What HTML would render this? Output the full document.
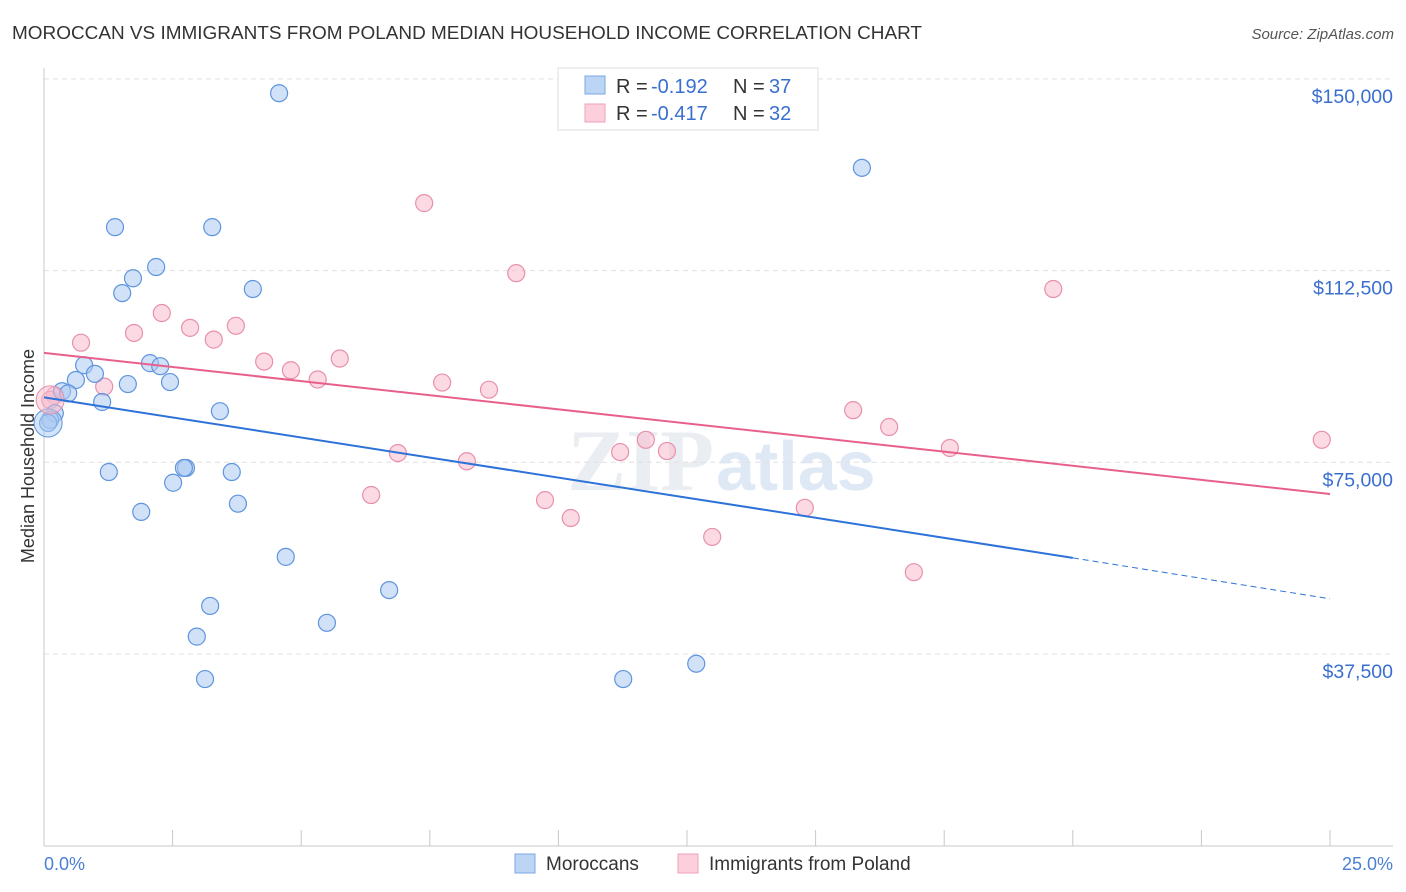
<!DOCTYPE html>
<html><head><meta charset="utf-8"><style>
body{margin:0;background:#fff;font-family:"Liberation Sans",sans-serif}
svg{display:block}
</style></head><body>
<svg id="c" width="1406" height="892" xmlns="http://www.w3.org/2000/svg">
<text x="12" y="39" font-size="18" fill="#333" textLength="910" lengthAdjust="spacingAndGlyphs">MOROCCAN VS IMMIGRANTS FROM POLAND MEDIAN HOUSEHOLD INCOME CORRELATION CHART</text>
<text x="1394" y="39" font-size="15" fill="#555" font-style="italic" text-anchor="end">Source: ZipAtlas.com</text>
<text x="714" y="490" font-size="88" fill="#eaedf1" text-anchor="end" font-family="Liberation Serif" font-weight="bold">ZIP</text>
<text x="716" y="490" font-size="70" fill="#dfe9f6" font-weight="bold">atlas</text>
<g id="grid"></g>
<g id="axes"></g>
<g id="marks"></g>
<text transform="translate(34,456) rotate(-90)" font-size="18" fill="#333" text-anchor="middle">Median Household Income</text>
<text x="44" y="870" font-size="18" fill="#4a7fd4">0.0%</text>
<text x="1393" y="870" font-size="18" fill="#4a7fd4" text-anchor="end">25.0%</text>
<g>
<rect x="558" y="68" width="260" height="62" fill="#fff" stroke="#ddd"/>
<rect x="585" y="76" width="20" height="18" fill="#bcd5f5" stroke="#7aa8e6"/>
<text x="616" y="93" font-size="20" fill="#333">R =</text>
<text x="651" y="93" font-size="20" fill="#3a6fd0">-0.192</text>
<text x="733" y="93" font-size="20" fill="#333">N =</text>
<text x="769" y="93" font-size="20" fill="#3a6fd0">37</text>
<rect x="585" y="104" width="20" height="18" fill="#fbd0dc" stroke="#f0a0b8"/>
<text x="616" y="120" font-size="20" fill="#333">R =</text>
<text x="651" y="120" font-size="20" fill="#3a6fd0">-0.417</text>
<text x="733" y="120" font-size="20" fill="#333">N =</text>
<text x="769" y="120" font-size="20" fill="#3a6fd0">32</text>
</g>
<g>
<rect x="515" y="854" width="20" height="19" fill="#bcd5f5" stroke="#7aa8e6"/>
<text x="546" y="870" font-size="19" fill="#333">Moroccans</text>
<rect x="678" y="854" width="20" height="19" fill="#fbd0dc" stroke="#f0a0b8"/>
<text x="709" y="870" font-size="19" fill="#333">Immigrants from Poland</text>
</g>
</svg>
<script>
const yTicks=[37500,75000,112500,150000];
const yTickLabels=["$37,500","$75,000","$112,500","$150,000"];
const xTicks=[0,2.5,5,7.5,10,12.5,15,17.5,20,22.5,25];
const blueX=[4.57,15.90,1.38,3.27,2.18,1.73,1.52,4.06,0.78,0.99,2.06,2.26,0.62,1.63,2.45,0.35,0.47,1.13,3.42,0.21,0.12,0.08,1.26,2.76,2.72,3.65,2.51,3.77,1.89,4.70,6.71,3.23,5.50,2.97,12.68,3.13,11.26];
const blueY=[147200,132600,121000,121000,113200,111000,108100,108900,94000,92300,94400,93800,91100,90300,90700,88900,88500,86800,85000,84600,83300,82700,73100,73900,73900,73100,71000,66900,65300,56500,50000,46900,43600,40900,35600,32600,32600];
const pinkX=[7.39,9.18,19.62,2.29,1.75,2.84,3.73,3.30,0.72,5.75,4.28,4.80,5.32,7.74,8.65,1.17,0.21,0.12,15.73,16.43,17.61,24.84,11.70,12.11,11.20,6.88,8.22,6.36,9.74,10.24,14.79,12.99,16.91];
const pinkY=[125700,112000,108900,104200,100300,101300,101700,99000,98400,95300,94700,93000,91200,90600,89200,89800,88100,87200,85200,81900,77800,79400,79400,77200,77000,76800,75200,68600,67600,64100,66100,60400,53500];
const blueTrendX=[0,20,25];
const blueTrendY=[87700,56300,48300];
const pinkTrendX=[0,25];
const pinkTrendY=[96400,68800];
const NS="http://www.w3.org/2000/svg";
const X=v=>44+v/25*1286;
const Y=v=>845.7-v/37500*191.7;
function mk(tag,attrs,parent){const e=document.createElementNS(NS,tag);for(const k in attrs)e.setAttribute(k,attrs[k]);document.getElementById(parent).appendChild(e);return e;}
yTicks.forEach((t,i)=>{
 const g=mk('line',{x1:44,x2:1393,y1:Y(t),y2:Y(t),stroke:'#e0e0e0','stroke-dasharray':'5,4'},'grid');
 
 
 const l=mk('text',{x:1393,y:Y(t)+24,'font-size':19.5,fill:'#3a6fd0','text-anchor':'end'},'grid');
 l.textContent=yTickLabels[i];
 
 
});
const ax=mk('line',{x1:44,x2:44,y1:68,y2:846,stroke:'#c8c8c8'},'axes');


const bx=mk('line',{x1:44,x2:1393,y1:846,y2:846,stroke:'#c8c8c8'},'axes');


xTicks.forEach(t=>{
 const k=mk('line',{x1:X(t),x2:X(t),y1:830,y2:846,stroke:'#c8c8c8'},'axes');
 
 
});
function pts(xs,ys,fill,stroke,name){
 xs.forEach((x,i)=>{
  const c=mk('circle',{cx:X(x),cy:Y(ys[i]),r:8.5,fill:fill,'fill-opacity':0.55,stroke:stroke,'stroke-width':1.2},'marks');
  
  
 });
}
pts(pinkX,pinkY,'#f7bccd','#e890aa','point-poland');
pts(blueX,blueY,'#a9c9f2','#5f95de','point-moroccan');
const bb=mk('circle',{cx:X(0.08),cy:Y(82700),r:14,fill:'#a9c9f2','fill-opacity':0.5,stroke:'#5f95de'},'marks');


const pb=mk('circle',{cx:X(0.12),cy:Y(87200),r:14,fill:'#f7bccd','fill-opacity':0.5,stroke:'#e890aa'},'marks');


const bt=mk('line',{x1:X(blueTrendX[0]),y1:Y(blueTrendY[0]),x2:X(blueTrendX[1]),y2:Y(blueTrendY[1]),stroke:'#2d72d8','stroke-width':2},'marks');


const bd=mk('line',{x1:X(blueTrendX[1]),y1:Y(blueTrendY[1]),x2:X(blueTrendX[2]),y2:Y(blueTrendY[2]),stroke:'#2d72d8','stroke-width':1,'stroke-dasharray':'6,4'},'marks');


const pt=mk('line',{x1:X(pinkTrendX[0]),y1:Y(pinkTrendY[0]),x2:X(pinkTrendX[1]),y2:Y(pinkTrendY[1]),stroke:'#e8608a','stroke-width':2},'marks');


</script>
</body></html>
